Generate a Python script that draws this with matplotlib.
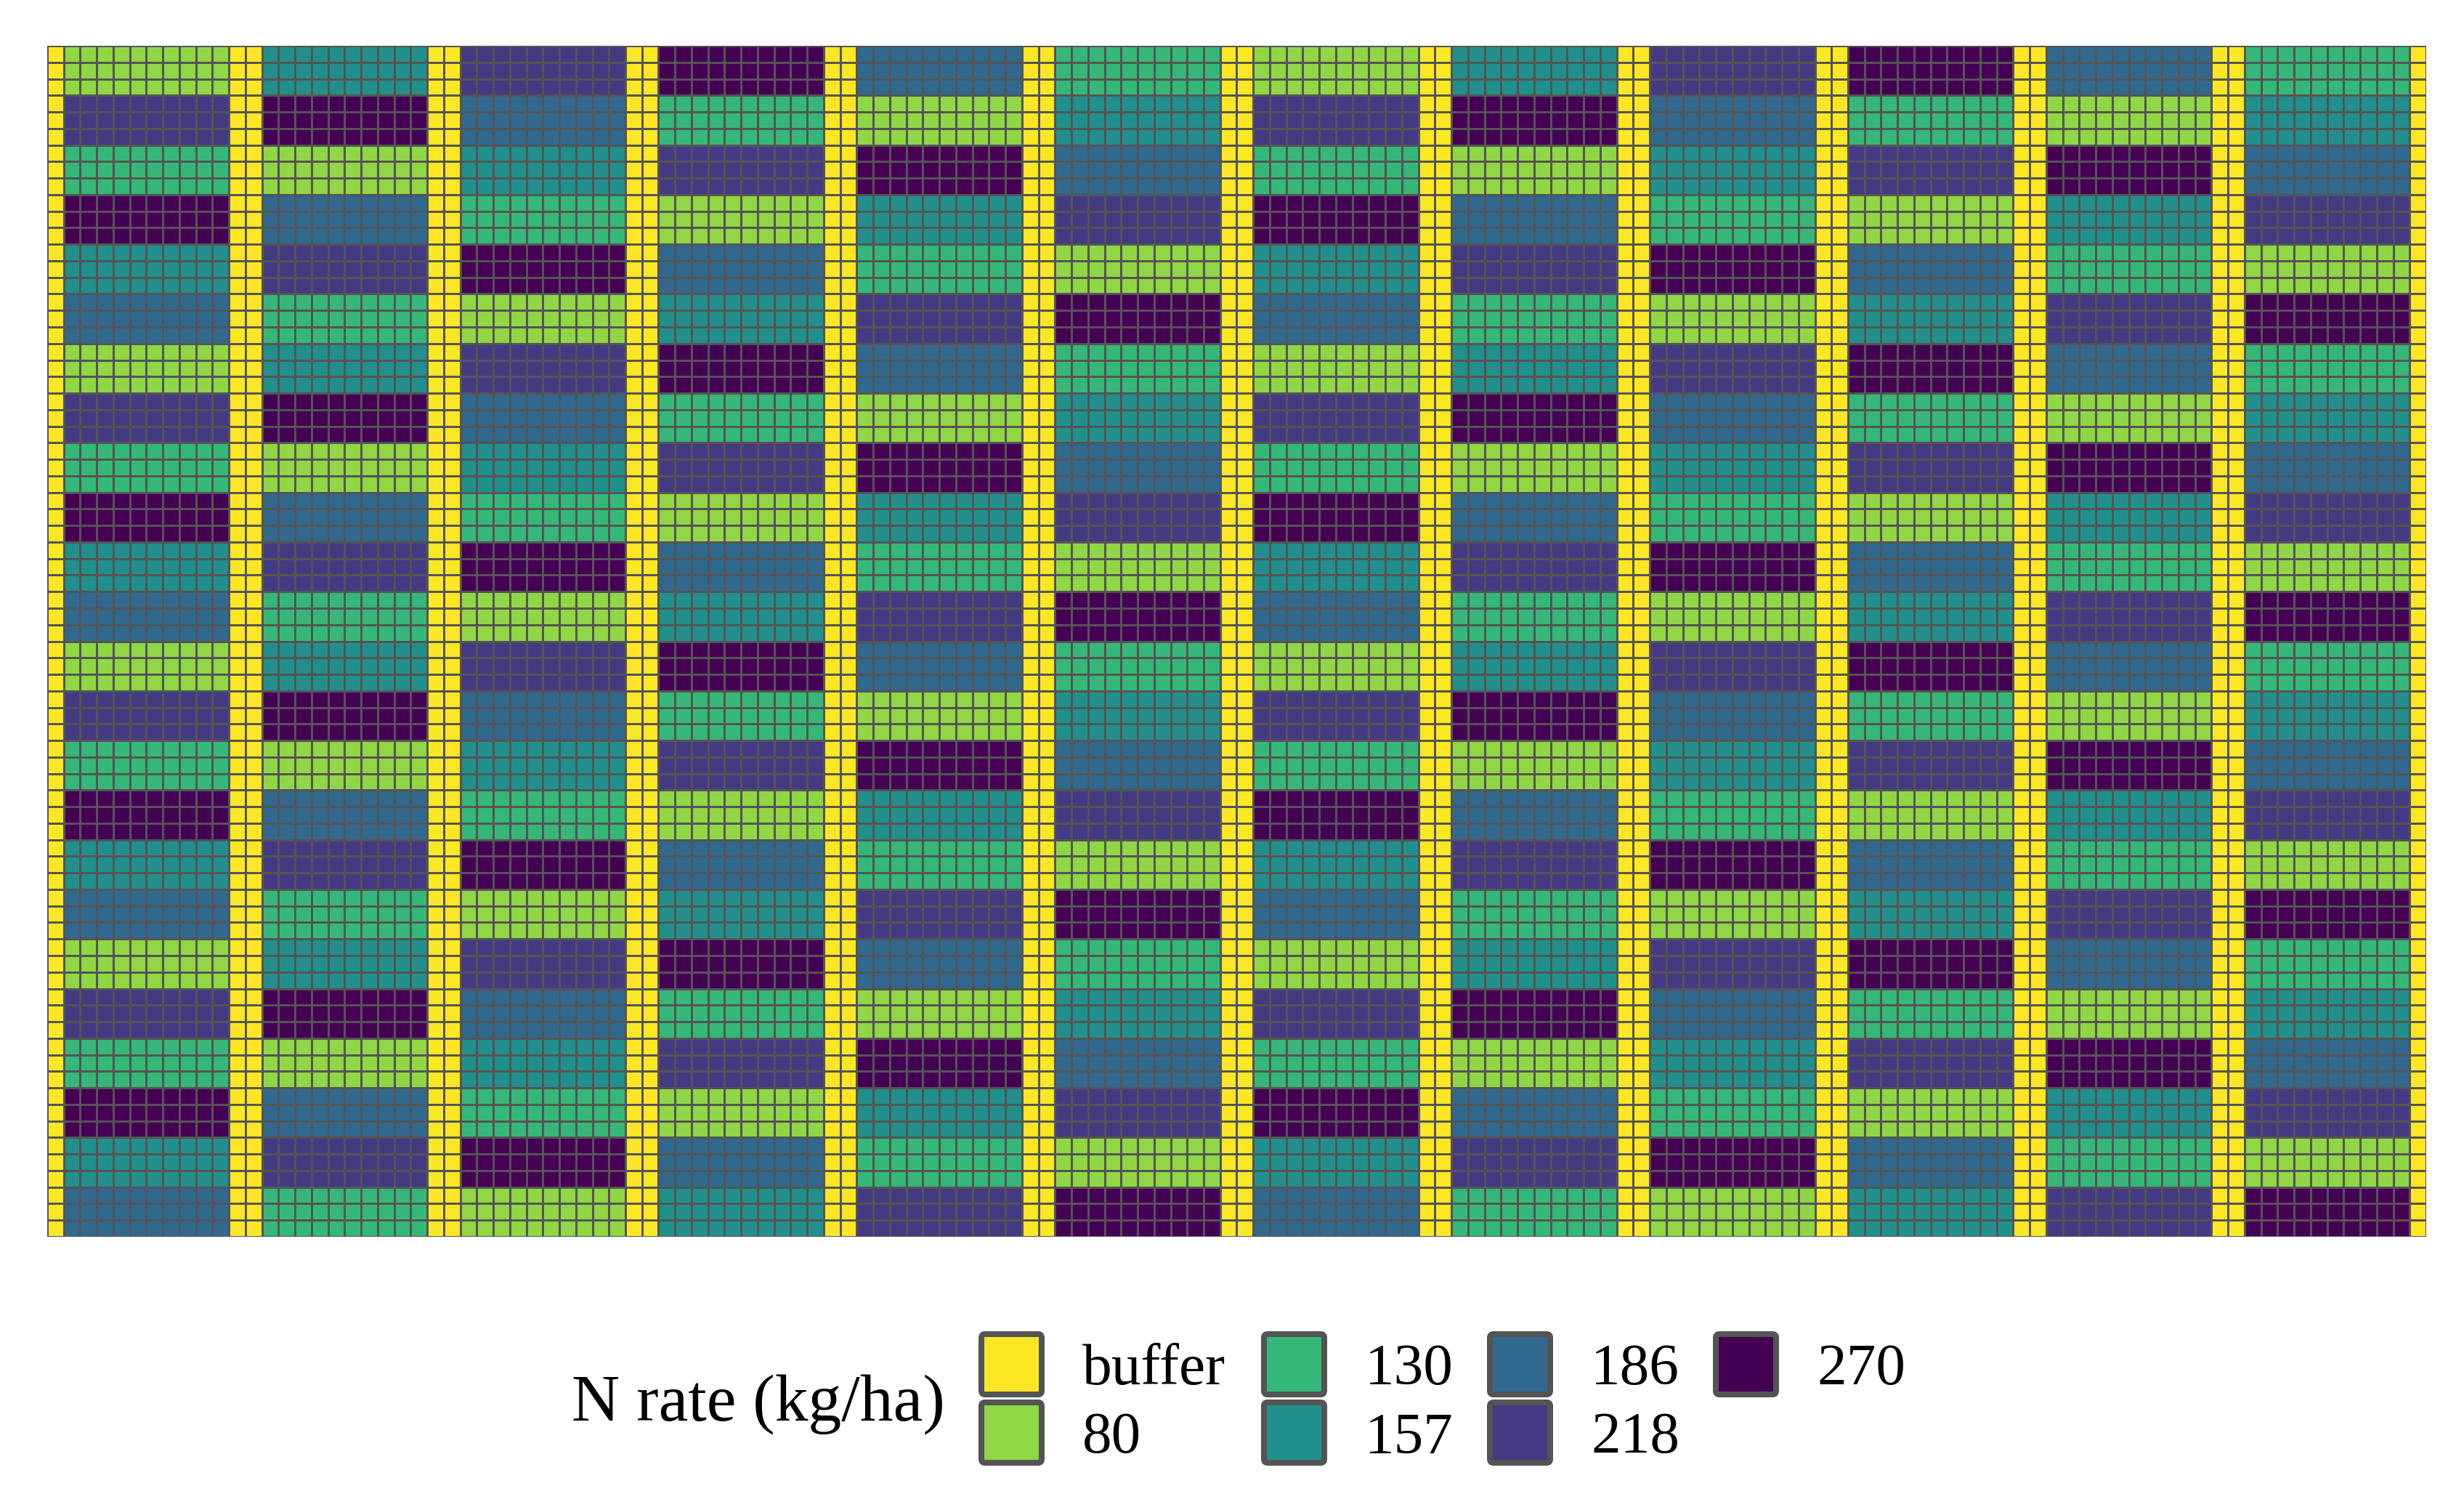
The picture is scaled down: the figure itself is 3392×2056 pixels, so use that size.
import numpy as np
import matplotlib.pyplot as plt
from matplotlib.colors import ListedColormap, BoundaryNorm
from matplotlib.patches import FancyBboxPatch

plt.rcParams['font.family'] = ['Liberation Serif', 'DejaVu Serif']

rate_labels = ["buffer", "80", "130", "157", "186", "218", "270"]
rate_colors = ["#FDE725", "#8FD744", "#35B779", "#21908C", "#31688E", "#443A83", "#440154"]

# N rate of the plots in each strip, top to bottom (one cycle, repeated down the strip)
strip_a = [80, 218, 130, 270, 157, 186]
strip_b = [157, 270, 80, 186, 218, 130]
strip_c = [218, 186, 157, 130, 270, 80]
strip_d = [270, 130, 218, 80, 186, 157]
strip_e = [186, 80, 270, 157, 130, 218]
strip_f = [130, 157, 186, 218, 80, 270]
strips = [strip_a, strip_b, strip_c, strip_d, strip_e, strip_f] * 2
cycles = 4

plot_rows = 3      # cells per plot, vertically
plot_cols = 10     # cells per plot, horizontally
buffer_cols = 2    # buffer cells between strips (1 at the field edges)

code = {int(l): i for i, l in enumerate(rate_labels) if l != "buffer"}
n_rows = plot_rows * cycles * len(strips[0])

columns = [np.zeros(n_rows, dtype=int)]
for k, s in enumerate(strips):
    col = np.repeat([code[v] for v in s * cycles], plot_rows)
    columns += [col] * plot_cols
    nb = buffer_cols if k < len(strips) - 1 else 1
    columns += [np.zeros(n_rows, dtype=int)] * nb
grid = np.column_stack(columns)

W, H = 3392, 2056
fig = plt.figure(figsize=(W / 300, H / 300), dpi=300)
ax = fig.add_axes([65 / W, 1 - 1702 / H, 3275 / W, 1639 / H])
cmap = ListedColormap(rate_colors)
norm = BoundaryNorm(np.arange(-0.5, len(rate_colors) + 0.5), cmap.N)
ax.pcolormesh(np.arange(grid.shape[1] + 1), np.arange(grid.shape[0] + 1), grid,
              cmap=cmap, norm=norm, edgecolors="#545454", linewidth=0.65)
ax.set_xlim(0, grid.shape[1])
ax.set_ylim(grid.shape[0], 0)
ax.axis("off")

# legend, drawn in pixel units
lax = fig.add_axes([0, 0, 1, 1])
lax.set_xlim(0, W)
lax.set_ylim(H, 0)
lax.axis("off")
lax.text(787, 1955, "N rate (kg/ha)", fontsize=22, va="baseline", ha="left")
col_x = [1347, 1736, 2047, 2358]
row_y = [1832, 1926]
key = 91
lw = 8
for i, (lab, c) in enumerate(zip(rate_labels, rate_colors)):
    cx, ry = col_x[i // 2], row_y[i % 2]
    lax.add_patch(FancyBboxPatch((cx + lw / 2, ry + lw / 2), key - lw, key - lw,
                                 boxstyle="round,pad=0,rounding_size=5",
                                 facecolor=c, edgecolor="#545454",
                                 linewidth=lw * 72 / 300))
    lax.text(cx + 143, ry + key / 2, lab, fontsize=19.5, va="center_baseline", ha="left")

fig.savefig("out.png", dpi=300, facecolor="white")
